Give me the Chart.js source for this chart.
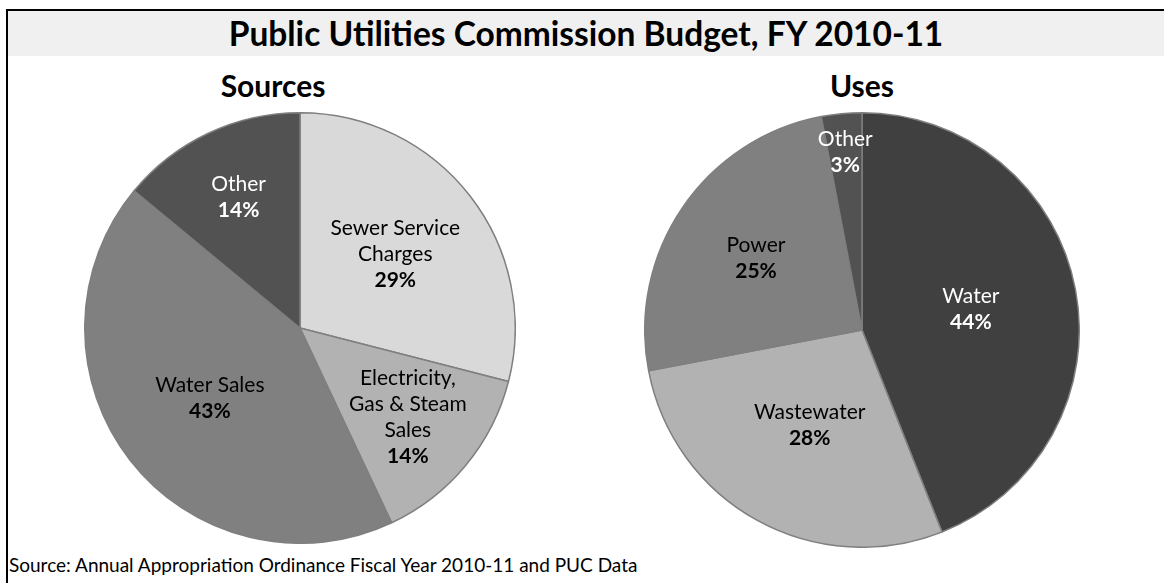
<!DOCTYPE html>
<html>
<head>
<meta charset="utf-8">
<script src="https://cdn.jsdelivr.net/npm/chart.js@4"></script>
<style>
  html, body { margin: 0; padding: 0; background: #fff; }
  body { width: 1164px; height: 583px; position: relative; overflow: hidden;
         font-family: Lato, "Open Sans", sans-serif; color: #000; }
  .frame { position: absolute; left: 6px; top: 9px; width: 1170px; height: 590px;
           border-top: 2px solid #000; border-left: 2px solid #000; }
  .band { position: absolute; left: 8px; top: 11px; width: 1156px; height: 45px; background: #f0f0f0; }
  .title { position: absolute; left: 8px; top: 11px; width: 1156px; height: 45px; line-height: 45px;
           text-align: center; font-weight: bold; font-size: 33.5px; }
  .sub { position: absolute; top: 69px; font-weight: bold; font-size: 30px; line-height: 32px;
         text-align: center; width: 200px; }
  .note { position: absolute; left: 9px; top: 553px; font-size: 19px; line-height: 24px; }
  canvas { position: absolute; }
</style>
</head>
<body>
<div class="frame"></div>
<div class="band"></div>
<div class="title">Public Utilities Commission Budget, FY 2010-11</div>
<div class="sub" style="left:173px">Sources</div>
<div class="sub" style="left:762px">Uses</div>
<div class="note">Source: Annual Appropriation Ordinance Fiscal Year 2010-11 and PUC Data</div>

<div id="wrapSources" style="position:absolute;left:84px;top:112px;width:432px;height:432px">
  <canvas id="sources"></canvas>
</div>
<div id="wrapUses" style="position:absolute;left:644px;top:112px;width:436px;height:436px">
  <canvas id="uses"></canvas>
</div>

<script>
// sources of funds, clockwise from 12 o'clock
var sourceLabels = [["Sewer Service", "Charges"], ["Electricity,", "Gas & Steam", "Sales"], ["Water Sales"], ["Other"]];
var sourceValues = [29, 14, 43, 14];

// uses of funds, clockwise from 12 o'clock
var useLabels = [["Water"], ["Wastewater"], ["Power"], ["Other"]];
var useValues = [44, 28, 25, 3];

// label text drawn inside each slice: name lines, then bold percent
var sliceLabels = {
  id: 'sliceLabels',
  afterDatasetsDraw: function (chart, args, opts) {
    var ctx = chart.ctx;
    var meta = chart.getDatasetMeta(0);
    var values = chart.data.datasets[0].data;
    meta.data.forEach(function (arc, i) {
      var p = arc.getProps(['x', 'y', 'startAngle', 'endAngle', 'outerRadius'], true);
      var mid = (p.startAngle + p.endAngle) / 2;
      var d = p.outerRadius * opts.dist[i];
      var cx = p.x + Math.cos(mid) * d;
      var cy = p.y + Math.sin(mid) * d;
      var lines = chart.data.labels[i];
      var total = lines.length + 1;
      var lh = 26;
      var y0 = cy - (total - 1) * lh / 2;
      ctx.save();
      ctx.textAlign = 'center';
      ctx.textBaseline = 'middle';
      ctx.fillStyle = opts.colors[i];
      ctx.font = '21px Lato, "Open Sans", sans-serif';
      lines.forEach(function (t, k) { ctx.fillText(t, cx, y0 + k * lh); });
      ctx.font = 'bold 21px Lato, "Open Sans", sans-serif';
      ctx.fillText(values[i] + '%', cx, y0 + lines.length * lh);
      ctx.restore();
    });
  }
};

function pie(id, labels, values, colors, textColors, dist) {
  return new Chart(document.getElementById(id), {
    type: 'pie',
    data: {
      labels: labels,
      datasets: [{
        data: values,
        backgroundColor: colors,
        borderColor: '#7f7f7f',
        borderWidth: 1.5
      }]
    },
    options: {
      responsive: true,
      maintainAspectRatio: false,
      animation: false,
      events: [],
      layout: { padding: 0 },
      plugins: {
        legend: { display: false },
        tooltip: { enabled: false },
        title: { display: false },
        sliceLabels: { colors: textColors, dist: dist }
      }
    },
    plugins: [sliceLabels]
  });
}

pie('sources', sourceLabels, sourceValues,
    ['#d9d9d9', '#b2b2b2', '#808080', '#525252'],
    ['#000', '#000', '#000', '#fff'],
    [0.56, 0.65, 0.53, 0.67]);

pie('uses', useLabels, useValues,
    ['#404040', '#b2b2b2', '#808080', '#525252'],
    ['#fff', '#000', '#000', '#fff'],
    [0.51, 0.5, 0.59, 0.82]);
</script>
</body>
</html>
